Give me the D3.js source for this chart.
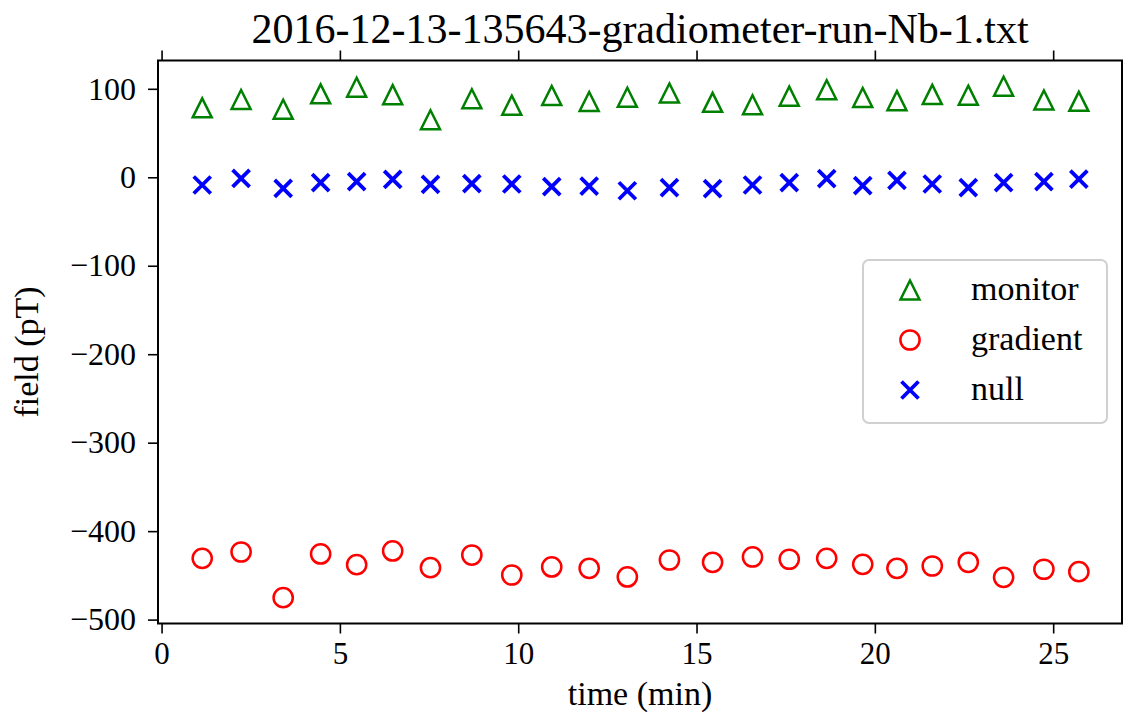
<!doctype html>
<html>
<head>
<meta charset="utf-8">
<title>gradiometer run</title>
<script src="https://cdn.jsdelivr.net/npm/d3@7"></script>
<style>
  body { margin: 0; background: #fff; }
  svg text { font-family: "Liberation Serif", "DejaVu Serif", serif; fill: #000; }
  .tick line { stroke: #000; stroke-width: 1.6px; }
  .domain { display: none; }
</style>
</head>
<body>
<svg id="chart" width="1123" height="716"></svg>
<script>
// time of each measurement (min)
var times = [1.14, 2.23, 3.41, 4.46, 5.47, 6.48, 7.54, 8.70, 9.82, 10.94, 11.99, 13.06,
             14.24, 15.45, 16.57, 17.60, 18.65, 19.66, 20.62, 21.61, 22.62, 23.61, 24.74, 25.72];

// field values (pT)
var monitor = [78.5, 87.9, 76.9, 94.3, 101.8, 93.4, 65.0, 88.8, 81.5, 92.4, 85.6, 90.5,
               95.3, 84.7, 82.0, 91.7, 99.0, 90.2, 86.6, 93.7, 92.8, 102.9, 87.3, 85.8];
var gradient = [-430.7, -423.6, -475.2, -425.8, -437.9, -422.4, -441.3, -427.0, -449.6, -440.5, -442.0, -451.8,
                -432.6, -435.2, -429.2, -431.8, -430.7, -437.5, -442.0, -439.4, -435.2, -452.2, -443.1, -445.8];
var nullField = [-8.7, -1.2, -12.5, -6.1, -5.0, -2.3, -8.0, -7.2, -7.6, -10.6, -9.9, -15.2,
                 -11.8, -12.9, -8.7, -6.1, -1.6, -9.5, -3.4, -7.6, -11.8, -6.1, -5.0, -2.0];

var xTicks = [0, 5, 10, 15, 20, 25];
var yTicks = [100, 0, -100, -200, -300, -400, -500];
var seriesNames = ["monitor", "gradient", "null"];

(function() {
  var svg = d3.select("#chart"),
      m = { left: 158, right: 1122, top: 60.5, bottom: 623.5 };

  var x = d3.scaleLinear().domain([-0.1, 26.93]).range([m.left, m.right]);
  var y = d3.scaleLinear().domain([-504.4, 132]).range([m.bottom, m.top]);

  var series = [
    { name: seriesNames[0], values: monitor, color: "#008000", shape: "tri" },
    { name: seriesNames[1], values: gradient, color: "#ff0000", shape: "circle" },
    { name: seriesNames[2], values: nullField, color: "#0000ff", shape: "x" }
  ];

  function drawMarker(sel, shape, color) {
    if (shape == "tri") {
      sel.append("path").attr("d", "M0,-9.5L9.5,9.5L-9.5,9.5Z")
        .attr("fill", "none").attr("stroke", color).attr("stroke-width", 2.5);
    } else if (shape == "circle") {
      sel.append("circle").attr("r", 9.6)
        .attr("fill", "none").attr("stroke", color).attr("stroke-width", 2.5);
    } else {
      sel.append("path").attr("d", "M-8.5,-8.5L8.5,8.5M-8.5,8.5L8.5,-8.5")
        .attr("fill", "none").attr("stroke", color).attr("stroke-width", 3.8);
    }
  }

  // markers
  series.forEach(function(s) {
    svg.append("g").selectAll("g")
      .data(s.values)
      .enter().append("g")
        .attr("transform", function(d, i) { return "translate(" + x(times[i]) + "," + y(d) + ")"; })
        .each(function() { drawMarker(d3.select(this), s.shape, s.color); });
  });

  // axes
  svg.append("g")
    .attr("transform", "translate(0," + m.bottom + ")")
    .call(d3.axisBottom(x).tickValues(xTicks).tickFormat(d3.format("")).tickSize(10).tickPadding(8))
    .selectAll("text").style("font-size", "31px");
  svg.append("g")
    .attr("transform", "translate(0," + m.top + ")")
    .call(d3.axisTop(x).tickValues(xTicks).tickFormat("").tickSize(10));
  svg.append("g")
    .attr("transform", "translate(" + m.left + ",0)")
    .call(d3.axisLeft(y).tickValues(yTicks).tickFormat(d3.format("")).tickSize(10).tickPadding(12))
    .selectAll("text").style("font-size", "32px");

  // frame
  svg.append("rect")
    .attr("x", m.left).attr("y", m.top)
    .attr("width", m.right - m.left).attr("height", m.bottom - m.top)
    .attr("fill", "none").attr("stroke", "#000").attr("stroke-width", 2);

  // labels
  svg.append("text")
    .attr("x", (m.left + m.right) / 2).attr("y", 43)
    .attr("text-anchor", "middle").style("font-size", "42px")
    .text("2016-12-13-135643-gradiometer-run-Nb-1.txt");
  svg.append("text")
    .attr("x", (m.left + m.right) / 2).attr("y", 705)
    .attr("text-anchor", "middle").style("font-size", "34px")
    .text("time (min)");
  svg.append("text")
    .attr("transform", "translate(38,352) rotate(-90)")
    .attr("text-anchor", "middle").style("font-size", "34px")
    .text("field (pT)");

  // legend
  var legend = svg.append("g").attr("transform", "translate(863,260)");
  legend.append("rect")
    .attr("width", 244).attr("height", 163).attr("rx", 6)
    .attr("fill", "#fff").attr("fill-opacity", 0.8)
    .attr("stroke", "#d0d0d0").attr("stroke-width", 2);
  series.forEach(function(s, i) {
    var row = legend.append("g").attr("transform", "translate(0," + (30 + i * 50) + ")");
    drawMarker(row.append("g").attr("transform", "translate(47,0)"), s.shape, s.color);
    row.append("text").attr("x", 108).attr("y", 10).style("font-size", "34px").text(s.name);
  });
})();
</script>
</body>
</html>
